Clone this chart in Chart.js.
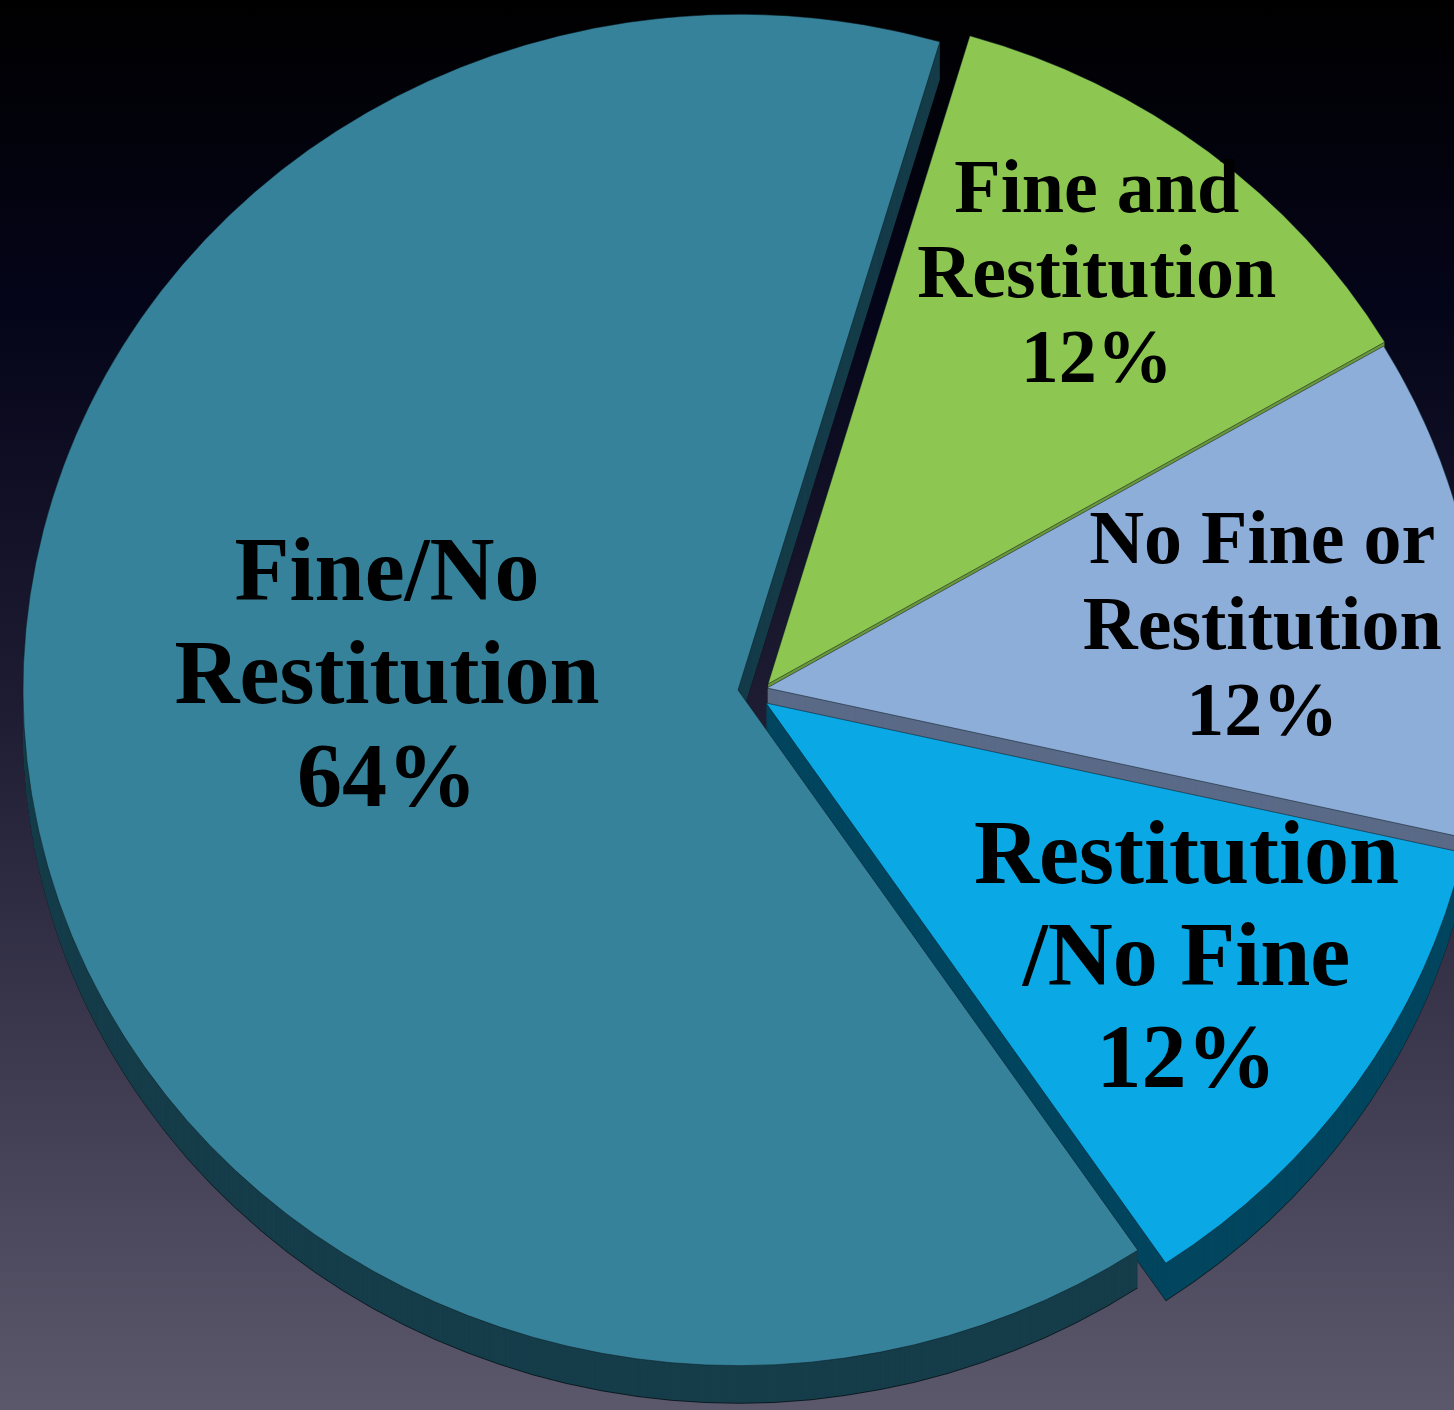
<!DOCTYPE html>
<html>
<head>
<meta charset="utf-8">
<title>Fine and Restitution</title>
<script src="https://cdn.jsdelivr.net/npm/chart.js@4/dist/chart.umd.min.js"></script>
<style>
  html, body {
    margin: 0;
    padding: 0;
    width: 1454px;
    height: 1410px;
    overflow: hidden;
    background: linear-gradient(to bottom, #000000 0%, #05051a 22%, #1e1c32 50%, #3d3a50 75%, #5c586c 100%);
  }
  #caja {
    position: relative;
    width: 1454px;
    height: 1410px;
  }
</style>
</head>
<body>
<div id="caja">
  <canvas id="grafico"></canvas>
</div>
<script>
// datos del grafico
const categorias = ['Fine/No Restitution', 'Fine and Restitution', 'No Fine or Restitution', 'Restitution/No Fine']
const valores = [64, 12, 12, 12]
const lineas = [
    ['Fine/No', 'Restitution'],
    ['Fine and', 'Restitution'],
    ['No Fine or', 'Restitution'],
    ['Restitution', '/No Fine']
]

const coloresCara = ['#36829a', '#8dc752', '#8eaeda', '#0aa9e6']
const coloresLado = ['#163d4a', '#6c983b', '#5a6a87', '#03465f']

// aplana el pastel y lo mueve segun la porcion
function colocar(ctx, arc, desp, escalaY, d) {
    ctx.translate(desp[0], desp[1] + d)
    ctx.translate(arc.x, arc.y)
    ctx.scale(1, escalaY)
    ctx.translate(-arc.x, -arc.y)
}

// pastel con lados (extrusion hacia abajo) y etiquetas de varias lineas
const pastel3d = {
    id: 'pastel3d',
    beforeDatasetDraw(chart, args, opts) {
        const ctx = chart.ctx
        const arcos = chart.getDatasetMeta(0).data

        // lados
        for (let d = opts.depth; d > 0; d--) {
            arcos.forEach((arc, i) => {
                const original = arc.options
                arc.options = Object.assign({}, original, {
                    backgroundColor: d === opts.depth ? '#0b1a20' : opts.sideColors[i],
                    borderWidth: 0
                })
                ctx.save()
                colocar(ctx, arc, opts.shift[i], opts.scaleY, d)
                arc.draw(ctx)
                ctx.restore()
                arc.options = original
            })
        }

        // caras
        arcos.forEach((arc, i) => {
            ctx.save()
            colocar(ctx, arc, opts.shift[i], opts.scaleY, 0)
            arc.draw(ctx)
            ctx.restore()
        })
        return false
    },
    afterDatasetsDraw(chart, args, opts) {
        const ctx = chart.ctx
        const arcos = chart.getDatasetMeta(0).data
        ctx.save()
        ctx.fillStyle = '#000000'
        ctx.textAlign = 'center'
        ctx.textBaseline = 'middle'
        arcos.forEach((arc, i) => {
            const p = arc.getProps(['x', 'y', 'startAngle', 'endAngle', 'outerRadius'], true)
            const ang = (p.startAngle + p.endAngle) / 2 + opts.labelTurn[i] * Math.PI / 180
            const r = p.outerRadius * opts.labelRadius[i]
            const lx = p.x + opts.shift[i][0] + Math.cos(ang) * r
            const ly = p.y + opts.shift[i][1] + Math.sin(ang) * r * opts.scaleY
            const texto = [...lineas[i], valores[i] + '%']
            const alto = opts.lineHeight[i]
            ctx.font = 'bold ' + opts.fontSize[i] + 'px "Liberation Serif", "DejaVu Serif", serif'
            texto.forEach((t, k) => {
                ctx.fillText(t, lx, ly + (k - 1) * alto)
            })
        })
        ctx.restore()
    }
}

const ctx = document.getElementById('grafico')

new Chart(ctx, {
    type: 'pie',
    data: {
        labels: categorias,
        datasets: [{
            data: valores,
            backgroundColor: coloresCara,
            borderColor: 'rgba(8, 24, 32, 0.55)',
            borderWidth: 1,
            clip: false
        }]
    },
    options: {
        responsive: true,
        maintainAspectRatio: false,
        animation: false,
        events: [],
        rotation: 146,
        radius: 715,
        layout: {
            padding: { left: 70, right: 0, top: 0, bottom: 30 }
        },
        plugins: {
            legend: { display: false },
            tooltip: { enabled: false },
            pastel3d: {
                depth: 38,
                scaleY: 0.945,
                sideColors: coloresLado,
                shift: [[-24, 0], [6, -6], [5, -2], [4, 13]],
                labelRadius: [0.491, 0.757, 0.698, 0.702],
                labelTurn: [10.5, -0.6, 1.7, -1.3],
                fontSize: [90, 76, 76, 90],
                lineHeight: [103, 85, 86, 102]
            }
        }
    },
    plugins: [pastel3d]
})
</script>
</body>
</html>
